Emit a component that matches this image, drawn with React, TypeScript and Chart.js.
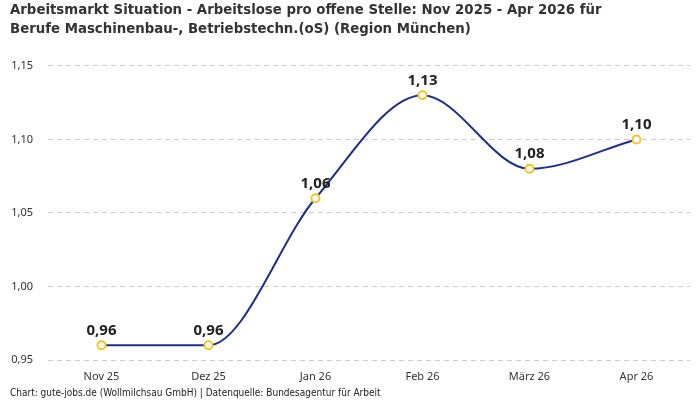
import React, { useEffect, useRef } from "react";
import { Chart, registerables } from "chart.js";

Chart.register(...registerables);

const titleLines = [
  "Arbeitsmarkt Situation - Arbeitslose pro offene Stelle: Nov 2025 - Apr 2026 für",
  "Berufe Maschinenbau-, Betriebstechn.(oS) (Region München)",
];
const footerText =
  "Chart: gute-jobs.de (Wollmilchsau GmbH) | Datenquelle: Bundesagentur für Arbeit";
const categories = ["Nov 25", "Dez 25", "Jan 26", "Feb 26", "März 26", "Apr 26"];
const values = [0.96, 0.96, 1.06, 1.13, 1.08, 1.1];
const yMin = 0.95;
const yMax = 1.15;
const yStep = 0.05;

const fmt = (v: number) => v.toFixed(2).replace(".", ",");

const labelPlugin = {
  id: "pointLabels",
  afterDatasetsDraw(chart: any) {
    const ctx = chart.ctx;
    const meta = chart.getDatasetMeta(0);
    ctx.save();
    ctx.font = "bold 15px 'Noto Sans'";
    ctx.fillStyle = "#222";
    ctx.textAlign = "center";
    ctx.textBaseline = "middle";
    meta.data.forEach((pt: any, i: number) => {
      ctx.fillText(fmt(values[i]), pt.x, pt.y - 15);
    });
    ctx.restore();
  },
};

export default function App() {
  const ref = useRef<HTMLCanvasElement | null>(null);
  useEffect(() => {
    if (!ref.current) return;
    const chart = new Chart(ref.current, {
      type: "line",
      data: {
        labels: categories,
        datasets: [
          {
            data: values,
            borderColor: "#1c2e8c",
            borderWidth: 2,
            cubicInterpolationMode: "monotone",
            pointRadius: 4,
            pointHoverRadius: 4,
            pointBackgroundColor: "#ffffff",
            pointBorderColor: "#f7c325",
            pointBorderWidth: 2,
            fill: false,
            clip: false,
          } as any,
        ],
      },
      options: {
        animation: false,
        responsive: false,
        maintainAspectRatio: false,
        layout: { padding: { left: 10, right: 10, top: 0, bottom: 0 } },
        plugins: {
          legend: { display: false },
          tooltip: { enabled: false },
          title: {
            display: true,
            text: titleLines,
            align: "start",
            color: "#333",
            font: { family: "'DejaVu Sans Condensed'", size: 14.8, weight: "bold", lineHeight: 1.28 },
            padding: { top: 0.5, bottom: 27.5 },
          },
          subtitle: {
            display: true,
            text: footerText,
            position: "bottom",
            align: "start",
            color: "#222",
            font: { family: "'DejaVu Sans Condensed'", size: 10, lineHeight: 1.2 },
            padding: { top: 1, bottom: 1 },
          },
        },
        scales: {
          x: {
            offset: true,
            grid: { display: false },
            border: { display: false },
            afterFit: (s: any) => {
              s.height = 26;
            },
            ticks: {
              color: "#333",
              font: { family: "'Noto Sans'", size: 11 },
              padding: 2,
            },
          },
          y: {
            min: yMin,
            max: yMax,
            border: { display: false, dash: [5, 4] },
            afterFit: (s: any) => {
              s.width = 38;
            },
            grid: {
              color: "#cccccc",
              drawTicks: false,
            },
            ticks: {
              stepSize: yStep,
              color: "#333",
              font: { family: "'Noto Sans'", size: 11 },
              padding: 15,
              callback: (v: any) => fmt(Number(v)),
            },
          },
        },
      },
      plugins: [labelPlugin],
    } as any);
    return () => chart.destroy();
  }, []);
  return (
    <div style={{ position: "fixed", left: 0, top: 0, width: 700, height: 400, background: "#fff" }}>
      <canvas ref={ref} width={700} height={400} style={{ width: 700, height: 400 }} />
    </div>
  );
}
